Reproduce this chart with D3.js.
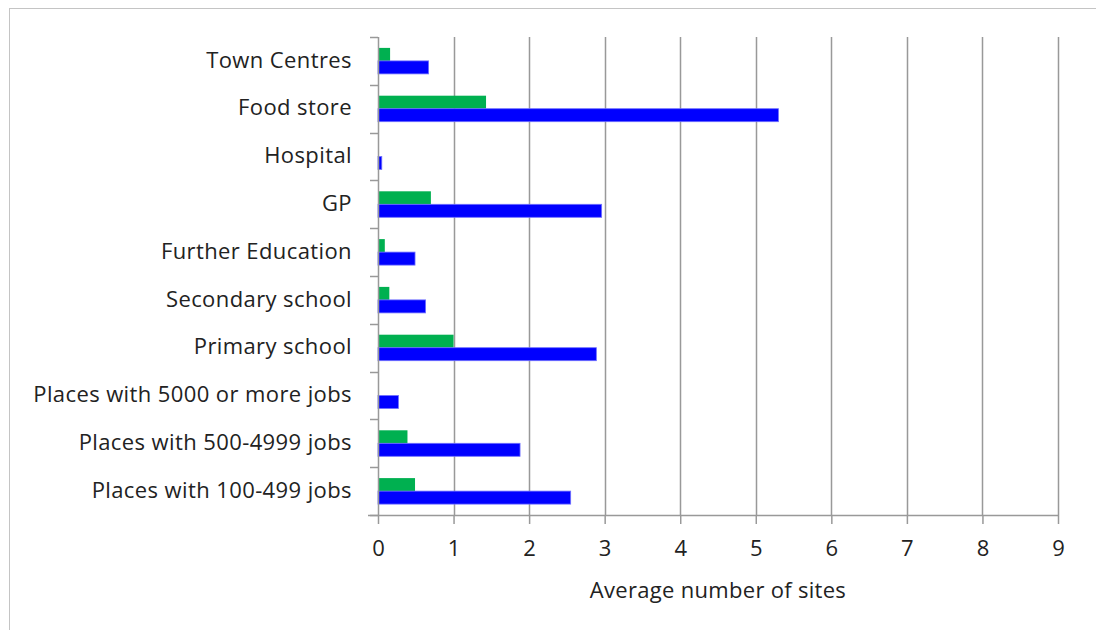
<!DOCTYPE html>
<html>
<head>
<meta charset="utf-8">
<script src="https://cdn.jsdelivr.net/npm/d3@7"></script>
<style>
  body { margin: 0; background: #fff; }
  svg text { font-family: "Open Sans", "Noto Sans", sans-serif; fill: #222; }
</style>
</head>
<body>
<div id="chart"></div>
<script>
// categories, top to bottom as drawn
const categories = [
    "Town Centres",
    "Food store",
    "Hospital",
    "GP",
    "Further Education",
    "Secondary school",
    "Primary school",
    "Places with 5000 or more jobs",
    "Places with 500-4999 jobs",
    "Places with 100-499 jobs"
];
// green series (upper bar of each pair)
const greenValues = [0.16, 1.43, 0, 0.70, 0.09, 0.15, 1.00, 0, 0.39, 0.49];
// blue series (lower bar of each pair)
const blueValues = [0.67, 5.30, 0.05, 2.96, 0.49, 0.63, 2.89, 0.27, 1.88, 2.55];
const xTicks = [0, 1, 2, 3, 4, 5, 6, 7, 8, 9];
const xTitle = "Average number of sites";

const W = 1096, H = 630;
const margin = {top: 37, left: 378, right: 38, bottom: 115};
const width = W - margin.left - margin.right;
const height = H - margin.top - margin.bottom;
const fontSize = "22px";

const svg = d3.select("#chart").append("svg")
    .attr("width", W).attr("height", H);

// outer frame (only top and left edges visible)
svg.append("rect")
    .attr("x", 9.5).attr("y", 8.5)
    .attr("width", W + 10).attr("height", H + 10)
    .attr("fill", "none").attr("stroke", "#c4c4c4").attr("stroke-width", 1);

const g = svg.append("g")
    .attr("transform", "translate(" + margin.left + "," + margin.top + ")");

const x = d3.scaleLinear().domain([0, 9]).range([0, width]);
const y = d3.scaleBand().domain(categories).range([0, height]);

// vertical gridlines
g.selectAll(".grid").data(xTicks.slice(1)).enter()
    .append("line")
    .attr("x1", d => Math.round(x(d)) + 0.5)
    .attr("x2", d => Math.round(x(d)) + 0.5)
    .attr("y1", 0).attr("y2", height)
    .attr("stroke", "#999").attr("stroke-width", 1.5);

// bars
const barH = 13;
g.selectAll(".g-bar").data(categories).enter()
    .append("rect")
    .attr("x", x(0))
    .attr("y", d => y(d) + y.bandwidth() / 2 - barH)
    .attr("width", (d, i) => x(greenValues[i]) - x(0))
    .attr("height", barH)
    .attr("fill", "#00b050");

g.selectAll(".b-bar").data(categories).enter()
    .append("rect")
    .attr("x", x(0))
    .attr("y", d => y(d) + y.bandwidth() / 2)
    .attr("width", (d, i) => x(blueValues[i]) - x(0))
    .attr("height", barH)
    .attr("fill", "#0000ff")
    .attr("stroke", "#6f6fff").attr("stroke-width", 0.8);

// y axis (category)
const yAxis = g.append("g")
    .call(d3.axisLeft(y).tickSize(0).tickPadding(26));
yAxis.select(".domain").remove();
yAxis.selectAll("text")
    .style("font-size", fontSize)
    .style("letter-spacing", "0.4px")
    .attr("dy", "0.3em");
// category boundary ticks
const bounds = categories.map(c => y(c)).concat([height]);
g.selectAll(".ytick").data(bounds).enter()
    .append("line")
    .attr("x1", -8).attr("x2", 0)
    .attr("y1", d => Math.round(d) + 0.5).attr("y2", d => Math.round(d) + 0.5)
    .attr("stroke", "#999").attr("stroke-width", 1.5);
g.append("line")
    .attr("x1", 0.5).attr("x2", 0.5).attr("y1", 0).attr("y2", height)
    .attr("stroke", "#999").attr("stroke-width", 1.5);

// x axis
const xAxis = g.append("g")
    .attr("transform", "translate(0," + height + ")")
    .call(d3.axisBottom(x).tickValues(xTicks).tickSize(9).tickPadding(16)
        .tickFormat(d3.format("d")));
xAxis.select(".domain").remove();
xAxis.selectAll("line").attr("stroke", "#999").attr("stroke-width", 1.5);
xAxis.selectAll("text").style("font-size", fontSize);
g.append("line")
    .attr("x1", -10).attr("x2", width + 1)
    .attr("y1", height + 0.5).attr("y2", height + 0.5)
    .attr("stroke", "#999").attr("stroke-width", 1.5);

g.append("text")
    .attr("x", x(4.5)).attr("y", height + 83)
    .attr("text-anchor", "middle")
    .style("font-size", fontSize)
    .style("letter-spacing", "0.3px")
    .text(xTitle);
</script>
</body>
</html>
